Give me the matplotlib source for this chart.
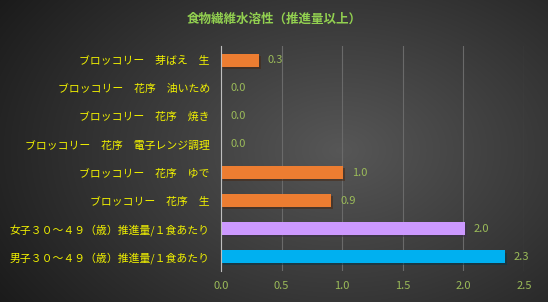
import matplotlib
matplotlib.use('Agg')
import matplotlib.pyplot as plt
import numpy as np
import matplotlib.patheffects as pe

plt.rcParams['font.family'] = ['Noto Sans CJK JP', 'DejaVu Sans']

labels = [
    'ブロッコリー　芽ばえ　生',
    'ブロッコリー　花序　油いため',
    'ブロッコリー　花序　焼き',
    'ブロッコリー　花序　電子レンジ調理',
    'ブロッコリー　花序　ゆで',
    'ブロッコリー　花序　生',
    '女子３０～４９（歳）推進量/１食あたり',
    '男子３０～４９（歳）推進量/１食あたり',
]
values = [0.31, 0.0, 0.0, 0.0, 1.01, 0.91, 2.01, 2.34]
colors = ['#ED7D31'] * 6 + ['#CC99FF', '#00B0F0']
xticks = [0.0, 0.5, 1.0, 1.5, 2.0, 2.5]

fig = plt.figure(figsize=(5.48, 3.02), dpi=100)

# background radial gradient
bg = fig.add_axes([0, 0, 1, 1], zorder=0)
yy, xx = np.mgrid[0:302, 0:548]
r = np.sqrt(((xx - 340) / 380.0) ** 2 + ((yy - 150) / 260.0) ** 2)
shade = np.clip(0.34 - 0.22 * r, 0.06, 1)
bg.imshow(np.dstack([shade, shade, shade]), aspect='auto', extent=[0, 1, 0, 1])
bg.axis('off')

ax = fig.add_axes([221 / 548, 1 - 271 / 302, (524 - 221) / 548, (271 - 46) / 302], zorder=1)
ax.patch.set_alpha(0)

y = np.arange(len(labels))
ax.barh(y, values, height=0.46, color=colors, zorder=3,
        path_effects=[pe.SimplePatchShadow(offset=(1.5, -1.5), alpha=0.5), pe.Normal()])

for yi, v in zip(y, values):
    ax.text(v + 0.075, yi, f'{v:.1f}', va='center', ha='left', fontsize=8,
            color='#9BBB59', zorder=4)

ax.set_ylim(len(labels) - 0.5, -0.5)
ax.set_xlim(0, 2.5)
ax.set_xticks(xticks)
ax.set_xticklabels([f'{t:.1f}' for t in xticks], color='#9BBB59', fontsize=8)
ax.set_yticks(y)
ax.set_yticklabels(labels, color='#F2F200', fontsize=7.8)
ax.tick_params(axis='y', length=0, pad=8)
ax.tick_params(axis='x', length=0, pad=7)
ax.grid(axis='x', color='#6a6a6a', linewidth=0.8, zorder=1)
for s in ['top', 'right', 'bottom']:
    ax.spines[s].set_visible(False)
ax.spines['left'].set_color('#bfbfbf')
ax.spines['left'].set_zorder(5)

fig.text(0.5, 1 - 19 / 302, '食物繊維水溶性（推進量以上）', ha='center', va='center',
         fontsize=9, color='#92D050', fontweight='bold')

plt.savefig('out.png', dpi=100)
